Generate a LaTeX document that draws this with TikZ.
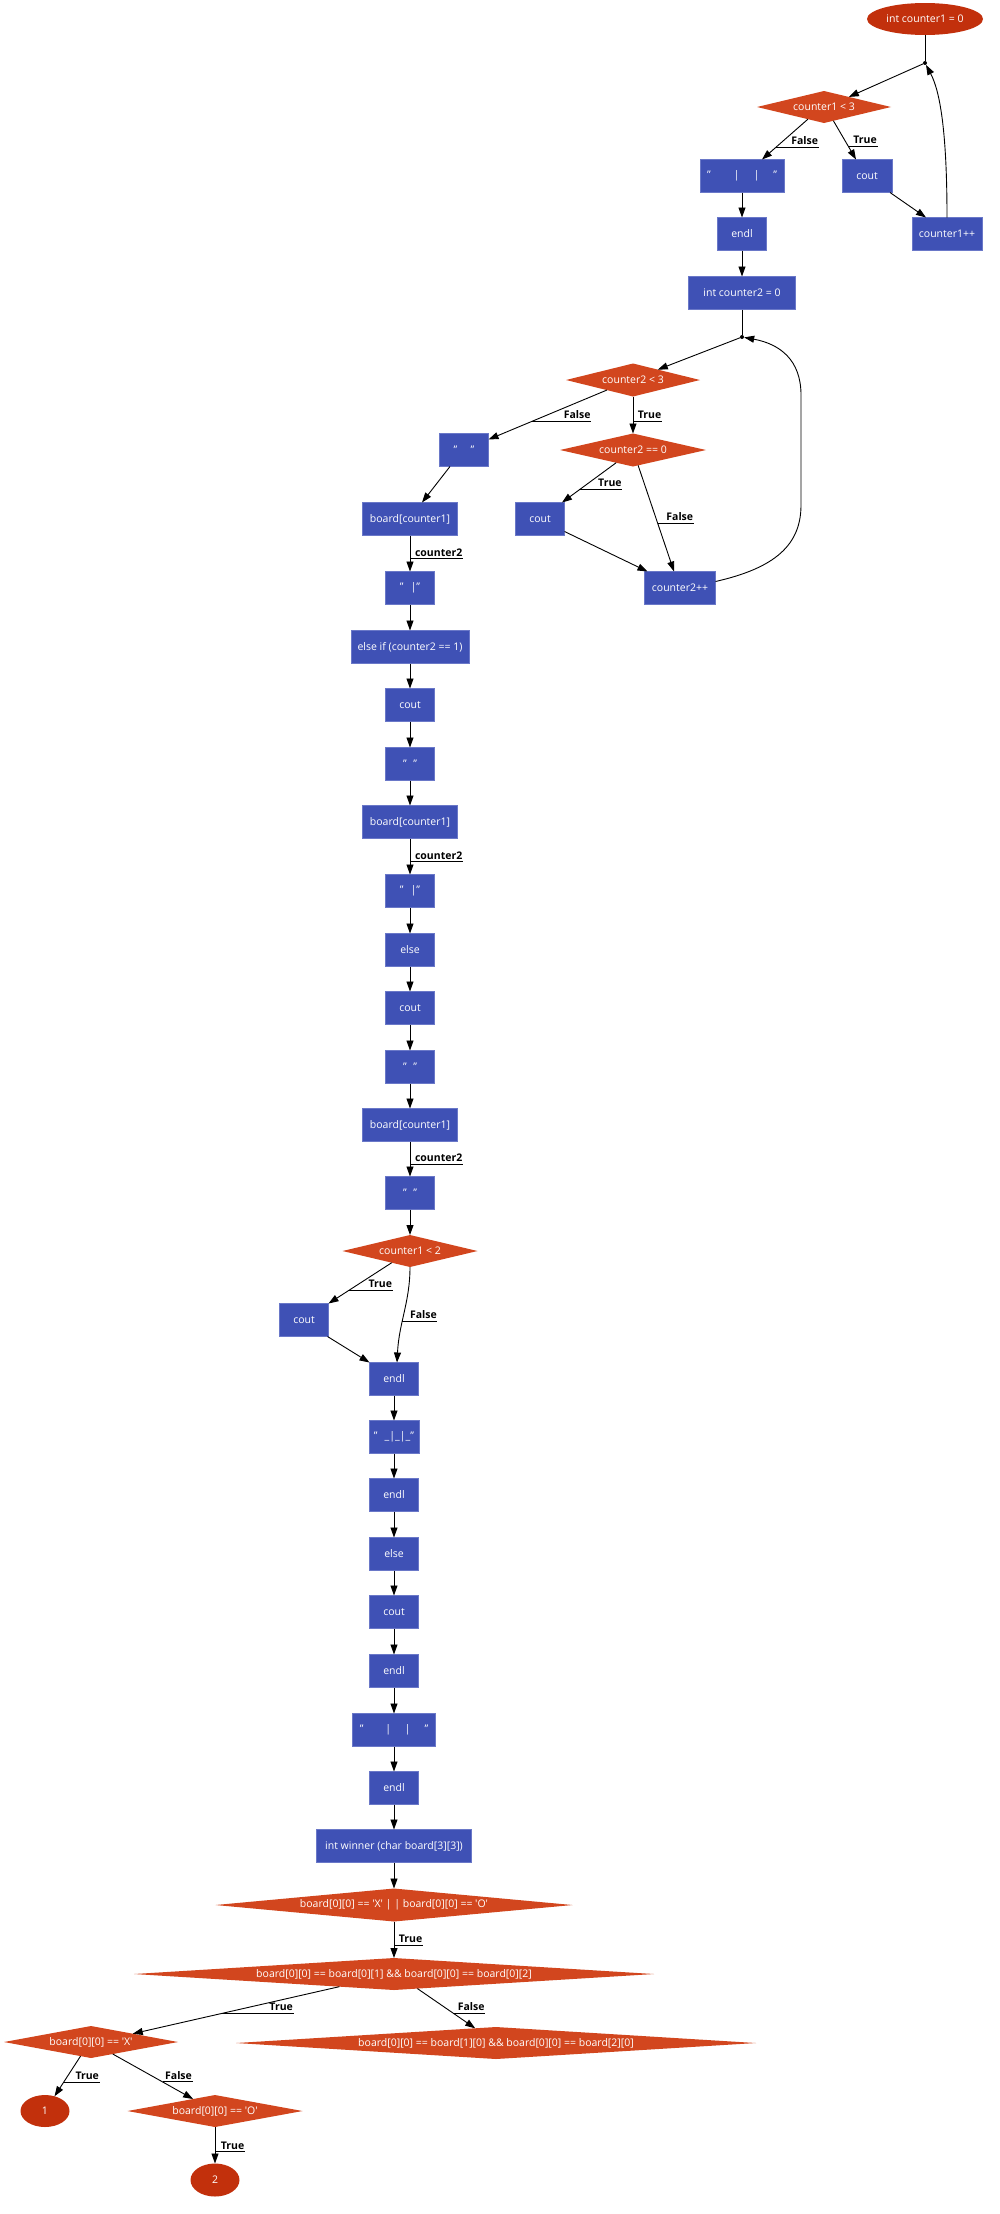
\documentclass[tikz,border=0pt]{standalone}
\usepackage{fontspec}
\setmainfont{Open Sans}
\usetikzlibrary{shapes.geometric,arrows.meta,calc}
\definecolor{boxfill}{HTML}{3F51B5}
\definecolor{boxline}{HTML}{6A78C8}
\definecolor{diafill}{HTML}{D2461E}
\definecolor{ellfill}{HTML}{C2300C}
\tikzset{
  box/.style={rectangle, fill=boxfill, draw=boxline, line width=0.6pt, text=white, inner sep=0pt, minimum height=33pt, minimum width=49pt, outer sep=0pt},
  dia/.style={diamond, fill=diafill, text=white, inner sep=0pt, outer sep=0pt},
  ell/.style={ellipse, fill=ellfill, text=white, inner sep=0pt, outer sep=0pt},
  edge/.style={draw=black, line width=0.9pt, -{Triangle[length=10pt,width=7pt]}},
  plain/.style={draw=black, line width=0.9pt},
  lbl/.style={font=\fontsize{10.5pt}{12pt}\selectfont\bfseries, text=black, inner xsep=0.5pt, inner ysep=2.5pt, anchor=south east},
  uline/.style={draw=black, line width=0.9pt},
  jn/.style={circle, fill=black, inner sep=0pt, minimum size=4pt},
}
\begin{document}
\begin{tikzpicture}[x=1pt,y=-1pt, every node/.append style={font=\fontsize{10.5pt}{12pt}\selectfont}]
\useasboundingbox (0,0) rectangle (1000,2214);
% ---------- nodes ----------
\node[ell, minimum width=116pt, minimum height=32pt] (e0) at (925,19) {int counter1 = 0};
\node[jn] (j1) at (925,63) {};
\node[dia, aspect=4.19, minimum width=134pt, minimum height=32pt] (d1) at (824,107) {counter1 < 3};
\node[box, minimum width=84pt] (b1) at (742,176) {"\hspace{23pt}|\hspace{14pt}|\hspace{14pt}"};
\node[box, minimum width=50pt] (b2) at (867,176) {cout};
\node[box] (b3) at (742,234) {endl};
\node[box, minimum width=70pt] (b4) at (947,234) {counter1++};
\node[box, minimum width=107pt] (b5) at (742,293) {int counter2 = 0};
\node[jn] (j2) at (742,337) {};
\node[dia, aspect=4.06, minimum width=134pt, minimum height=33pt] (d2) at (633,380) {counter2 < 3};
\node[box] (b6) at (464,450) {"\hspace{13.5pt}"};
\node[dia, aspect=4.42, minimum width=146pt, minimum height=33pt] (d3) at (633,450) {counter2 == 0};
\node[box, minimum width=95pt] (b7) at (410,519) {board[counter1]};
\node[box] (b8) at (540,519) {cout};
\node[box] (b9) at (410,588) {"\hspace{7pt}|"};
\node[box, minimum width=71pt] (b10) at (680,588) {counter2++};
\node[box, minimum width=118pt] (b11) at (410,647) {else if (counter2 == 1)};
\node[box] (b12) at (410,705) {cout};
\node[box] (b13) at (410,764) {"\hspace{6.5pt}"};
\node[box, minimum width=95pt] (b14) at (410,822) {board[counter1]};
\node[box] (b15) at (410,891) {"\hspace{7pt}|"};
\node[box] (b16) at (410,950) {else};
\node[box] (b17) at (410,1008) {cout};
\node[box] (b18) at (410,1067) {"\hspace{6.5pt}"};
\node[box, minimum width=95pt] (b19) at (410,1125) {board[counter1]};
\node[box] (b20) at (410,1193) {"\hspace{6.5pt}"};
\node[dia, aspect=4.22, minimum width=135pt, minimum height=32pt] (d4) at (410,1251) {counter1 < 2};
\node[box] (b21) at (304,1320) {cout};
\node[box] (b22) at (394,1379) {endl};
\node[box, minimum width=50pt] (b23) at (394,1437) {"\hspace{7pt}\_|\_|\_"};
\node[box] (b24) at (394,1495) {endl};
\node[box] (b25) at (394,1554) {else};
\node[box] (b26) at (394,1612) {cout};
\node[box] (b27) at (394,1671) {endl};
\node[box, minimum width=83pt] (b28) at (394,1730) {"\hspace{22pt}|\hspace{13.5pt}|\hspace{14pt}"};
\node[box] (b29) at (394,1788) {endl};
\node[box, minimum width=155pt] (b30) at (394,1846) {int winner (char board[3][3])};
\node[dia, aspect=10.82, minimum width=357pt, minimum height=33pt] (d5) at (394,1905) {board[0][0] == \textquotesingle X\textquotesingle{} | | board[0][0] == \textquotesingle O\textquotesingle};
\node[dia, aspect=16.25, minimum width=520pt, minimum height=32pt] (d6) at (394,1974) {board[0][0] == board[0][1] \&\& board[0][0] == board[0][2]};
\node[dia, aspect=16.25, minimum width=520pt, minimum height=32pt] (d7) at (496,2043) {board[0][0] == board[1][0] \&\& board[0][0] == board[2][0]};
\node[dia, aspect=5.44, minimum width=174pt, minimum height=32pt] (d8) at (91,2042) {board[0][0] == \textquotesingle X\textquotesingle};
\node[ell, minimum width=49pt, minimum height=32pt] (e1) at (45,2111) {1};
\node[dia, aspect=5.47, minimum width=175pt, minimum height=32pt] (d9) at (215,2111) {board[0][0] == \textquotesingle O\textquotesingle};
\node[ell, minimum width=49pt, minimum height=33pt] (e2) at (215,2180) {2};
% ---------- edges ----------
\draw[plain] (e0) -- (j1);
\draw[edge] (j1) -- ($(d1.north)!0.37!(d1.east)$);
\draw[edge] ($(d1.south)!0.24!(d1.west)$) -- node[coordinate,pos=0.7] (p1) {} ([xshift=20pt]b1.north);
\node[lbl] (l1) at ([xshift=43pt]p1) {False};
\draw[uline] (p1) -- (l1.south east);
\draw[edge] ($(d1.south)!0.14!(d1.east)$) -- node[coordinate,pos=0.67] (p2) {} ([xshift=-11pt]b2.north);
\node[lbl] (l2) at ([xshift=29pt]p2) {True};
\draw[uline] (p2) -- (l2.south east);
\draw[edge] (b1) -- (b3);
\draw[edge] ([xshift=-2pt]b2.south east) -- ([xshift=-21pt]b4.north);
\draw[edge] (b4.north) .. controls +(0,-80) and +(16,30) .. (j1);
\draw[edge] (b3) -- (b5);
\draw[plain] (b5) -- (j2);
\draw[edge] (j2) -- ($(d2.north)!0.37!(d2.east)$);
\draw[edge] ($(d2.south)!0.39!(d2.west)$) -- node[coordinate,pos=0.63] (p3) {} ([yshift=-6pt]b6.north east);
\node[lbl] (l3) at ([xshift=59pt]p3) {False};
\draw[uline] (p3) -- (l3.south east);
\draw[edge] (d2) -- node[coordinate,pos=0.67] (p4) {} (d3);
\node[lbl] (l4) at ([xshift=29pt]p4) {True};
\draw[uline] (p4) -- (l4.south east);
\draw[edge] ($(d3.south)!0.23!(d3.west)$) -- node[coordinate,pos=0.68] (p5) {} ([xshift=22pt]b8.north);
\node[lbl] (l5) at ([xshift=43pt]p5) {True};
\draw[uline] (p5) -- (l5.south east);
\draw[edge] ($(d3.south)!0.07!(d3.east)$) -- node[coordinate,pos=0.55] (p6) {} ([xshift=-6pt]b10.north);
\node[lbl] (l6) at ([xshift=36pt]p6) {False};
\draw[uline] (p6) -- (l6.south east);
\draw[edge] ([yshift=4pt]b8.south east) -- ([xshift=3pt]b10.north west);
\draw[edge] ([yshift=-10pt]b10.north east) .. controls (775,568) and (801,545) .. (801,505) -- (801,395) .. controls (801,360) and (780,344) .. (j2);
\draw[edge] ([xshift=-14pt]b6.south) -- ([xshift=12pt]b7.north);
\draw[edge] (b7) -- node[coordinate,pos=0.65] (p7) {} (b9);
\node[lbl] (l7) at ([xshift=53pt]p7) {counter2};
\draw[uline] (p7) -- (l7.south east);
\draw[edge] (b9) -- (b11);
\draw[edge] (b11) -- (b12);
\draw[edge] (b12) -- (b13);
\draw[edge] (b13) -- (b14);
\draw[edge] (b14) -- node[coordinate,pos=0.65] (p8) {} (b15);
\node[lbl] (l8) at ([xshift=53pt]p8) {counter2};
\draw[uline] (p8) -- (l8.south east);
\draw[edge] (b15) -- (b16);
\draw[edge] (b16) -- (b17);
\draw[edge] (b17) -- (b18);
\draw[edge] (b18) -- (b19);
\draw[edge] (b19) -- node[coordinate,pos=0.65] (p9) {} (b20);
\node[lbl] (l9) at ([xshift=53pt]p9) {counter2};
\draw[uline] (p9) -- (l9.south east);
\draw[edge] (b20) -- (d4);
\draw[edge] ($(d4.south)!0.27!(d4.west)$) -- node[coordinate,pos=0.68] (p10) {} (b21.north east);
\node[lbl] (l10) at ([xshift=44pt]p10) {True};
\draw[uline] (p10) -- (l10.south east);
\draw[edge] (d4.south) .. controls +(0,35) and +(2,-40) .. ([xshift=3pt]b22.north) node[coordinate,pos=0.6] (p11) {};
\node[lbl] (l11) at ([xshift=35pt]p11) {False};
\draw[uline] (p11) -- (l11.south east);
\draw[edge] ([xshift=-1pt]b21.south east) -- (b22.north west);
\draw[edge] (b22) -- (b23);
\draw[edge] (b23) -- (b24);
\draw[edge] (b24) -- (b25);
\draw[edge] (b25) -- (b26);
\draw[edge] (b26) -- (b27);
\draw[edge] (b27) -- (b28);
\draw[edge] (b28) -- (b29);
\draw[edge] (b29) -- (b30);
\draw[edge] (b30) -- (d5);
\draw[edge] (d5) -- node[coordinate,pos=0.65] (p12) {} (d6);
\node[lbl] (l12) at ([xshift=29pt]p12) {True};
\draw[uline] (p12) -- (l12.south east);
\draw[edge] ($(d6.south)!0.21!(d6.west)$) -- node[coordinate,pos=0.57] (p13) {} ($(d8.north)!0.48!(d8.east)$);
\node[lbl] (l13) at ([xshift=72pt]p13) {True};
\draw[uline] (p13) -- (l13.south east);
\draw[edge] ($(d6.south)!0.09!(d6.east)$) -- node[coordinate,pos=0.62] (p14) {} ($(d7.north)!0.08!(d7.west)$);
\node[lbl] (l14) at ([xshift=32pt]p14) {False};
\draw[uline] (p14) -- (l14.south east);
\draw[edge] ($(d8.south)!0.12!(d8.west)$) -- node[coordinate,pos=0.65] (p15) {} (e1);
\node[lbl] (l15) at ([xshift=36pt]p15) {True};
\draw[uline] (p15) -- (l15.south east);
\draw[edge] ($(d8.south)!0.25!(d8.east)$) -- node[coordinate,pos=0.62] (p16) {} ($(d9.north)!0.25!(d9.west)$);
\node[lbl] (l16) at ([xshift=30pt]p16) {False};
\draw[uline] (p16) -- (l16.south east);
\draw[edge] (d9) -- node[coordinate,pos=0.68] (p17) {} (e2);
\node[lbl] (l17) at ([xshift=30pt]p17) {True};
\draw[uline] (p17) -- (l17.south east);
\end{tikzpicture}
\end{document}
